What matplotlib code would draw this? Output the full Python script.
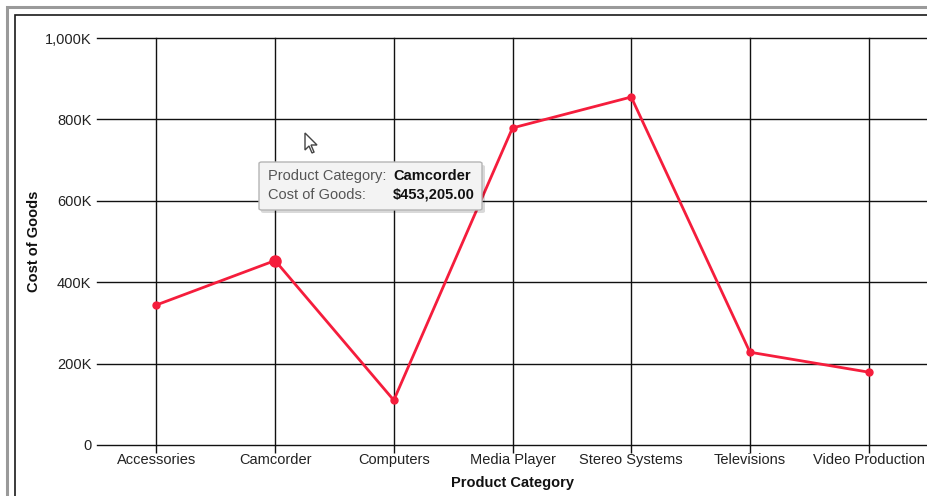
import matplotlib
matplotlib.use("Agg")
import matplotlib.pyplot as plt
from matplotlib.patches import Rectangle, FancyBboxPatch, Polygon

categories = ["Accessories", "Camcorder", "Computers", "Media Player",
              "Stereo Systems", "Televisions", "Video Production"]
cost_of_goods = [344000, 453205, 110000, 779000, 855000, 228000, 179000]
y_ticks = [0, 200000, 400000, 600000, 800000, 1000000]
y_tick_labels = ["0", "200K", "400K", "600K", "800K", "1,000K"]
highlight_index = 1
tooltip_rows = [("Product Category:", "Camcorder"), ("Cost of Goods:", "$453,205.00")]

plt.rcParams['font.family'] = ['Liberation Sans', 'DejaVu Sans']

W, H = 927, 496
fig = plt.figure(figsize=(W / 100, H / 100), dpi=100)

def fx(px):
    return px / W

def fy(py):
    return 1 - py / H

# page borders
fig.patches.append(Rectangle((fx(7), fy(600)), fx(1000), fy(7) - fy(600), transform=fig.transFigure,
                             fill=False, edgecolor="#9a9a9a", linewidth=2.2, zorder=0))
fig.patches.append(Rectangle((fx(15), fy(600)), fx(1000), fy(15) - fy(600), transform=fig.transFigure,
                             fill=False, edgecolor="#1a1a1a", linewidth=1.2, zorder=0))

ax = fig.add_axes([fx(97), fy(445), fx(928) - fx(97), fy(38) - fy(445)])
ax.set_facecolor("none")
x = list(range(len(categories)))
ax.set_xlim(-0.5, len(categories) - 0.5)
ax.set_ylim(0, 1000000)

for s in ax.spines.values():
    s.set_visible(False)

ax.set_yticks(y_ticks)
ax.set_yticklabels(y_tick_labels)
ax.set_xticks(x)
ax.set_xticklabels(categories)
ax.grid(True, color="#111111", linewidth=1.0)
ax.set_axisbelow(True)
for gl in ax.get_xgridlines() + ax.get_ygridlines():
    gl.set_clip_on(False)
ax.tick_params(axis="y", length=0, pad=4, labelsize=10.5, labelcolor="#222222")
ax.tick_params(axis="x", length=6, width=1.0, color="#111111", pad=0, labelsize=10.5, labelcolor="#222222")

ax.plot(x, cost_of_goods, color="#f51d3c", linewidth=2, marker="o", markersize=5, zorder=3, clip_on=False)
ax.plot([x[highlight_index]], [cost_of_goods[highlight_index]], "o", color="#f51d3c", markersize=8, zorder=4)

ax.set_xlabel("Product Category", fontsize=10.5, fontweight="bold", labelpad=6, color="#111111")
ax.set_ylabel("Cost of Goods", fontsize=10.5, fontweight="bold", color="#111111")
ax.yaxis.set_label_coords((41 - 97) / 831, 0.5)

# tooltip
bx0, by0, bx1, by1 = 259, 162, 482, 210
shadow = FancyBboxPatch((fx(bx0 + 2), fy(by1 + 3)), fx(bx1 - bx0 + 1), fy(by0) - fy(by1),
                        boxstyle="round,pad=0,rounding_size=0.003", transform=fig.transFigure,
                        facecolor="#000000", alpha=0.15, edgecolor="none", zorder=10)
box = FancyBboxPatch((fx(bx0), fy(by1)), fx(bx1 - bx0), fy(by0) - fy(by1),
                     boxstyle="round,pad=0,rounding_size=0.003", transform=fig.transFigure,
                     facecolor="#f3f3f3", edgecolor="#b5b5b5", linewidth=1, zorder=11)
fig.patches.extend([shadow, box])
for i, (lab, val) in enumerate(tooltip_rows):
    yy = fy(176 + i * 19)
    fig.text(fx(268), yy, lab, fontsize=10.5, color="#555555", va="center", ha="left", zorder=12)
    fig.text(fx(393), yy, val, fontsize=10.5, color="#111111", fontweight="bold", va="center", ha="left", zorder=12)

# mouse cursor
tx, ty = 305, 133
cur = [(0, 0), (0, 17), (4, 13), (7, 20), (9, 19), (6, 12), (12, 12)]
fig.patches.append(Polygon([(fx(tx + a), fy(ty + b)) for a, b in cur], closed=True,
                           transform=fig.transFigure, facecolor="white", edgecolor="#444444",
                           linewidth=1, zorder=13))

fig.savefig("out.png", dpi=100)
